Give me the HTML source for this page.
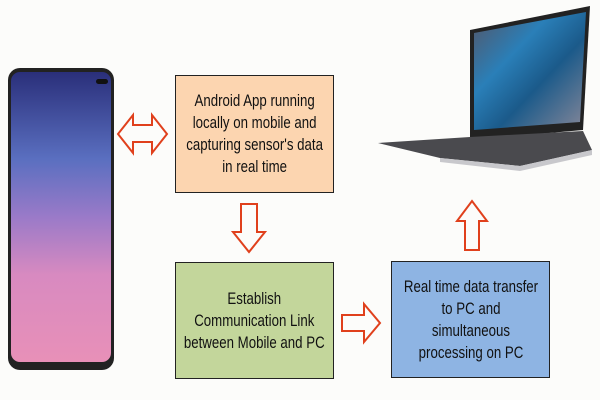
<!DOCTYPE html>
<html><head><meta charset="utf-8"><style>
html,body{margin:0;padding:0;}
body{width:600px;height:400px;background:#fcfcfa;position:relative;overflow:hidden;font-family:"Liberation Sans",sans-serif;}
.box{position:absolute;border:1.5px solid #222;box-sizing:border-box;display:flex;align-items:center;justify-content:center;text-align:center;font-size:17px;line-height:22px;color:#111;white-space:nowrap;}
.box span{display:inline-block;transform:scaleX(0.78);}
svg{position:absolute;left:0;top:0;}
</style></head><body>
<svg width="600" height="400">
<defs>
<linearGradient id="ph" x1="0" y1="0" x2="0" y2="1">
<stop offset="0" stop-color="#2a2f7a"/><stop offset="0.3" stop-color="#5a6fc0"/><stop offset="0.5" stop-color="#9a7ac8"/><stop offset="0.7" stop-color="#d88ac0"/><stop offset="1" stop-color="#e890b8"/>
</linearGradient>
<linearGradient id="sc" x1="0" y1="0" x2="1" y2="1">
<stop offset="0" stop-color="#556"/><stop offset="0.35" stop-color="#2a7fb8"/><stop offset="0.6" stop-color="#1b5a8a"/><stop offset="1" stop-color="#889"/>
</linearGradient>
</defs>
<rect x="8" y="68" width="106" height="302" rx="12" fill="#222"/>
<rect x="11" y="72" width="100" height="290" rx="9" fill="url(#ph)"/>
<rect x="96" y="79" width="12" height="5" rx="2.5" fill="#111"/>
<polygon points="470,30 590,6 583,130 470,140" fill="#222"/>
<polygon points="474,33 586,12 580,122 474,130" fill="url(#sc)"/>
<polygon points="378,143 470,137 583,131 592,150 520,166 440,158" fill="#4a4a4e"/>
<polygon points="440,158 520,166 592,150 592,155 520,171 440,162" fill="#c8c8cc"/>
<polygon points="118,134 133,115 133,125 152,125 152,115 167,134 152,153 152,142 133,142 133,153" fill="none" stroke="#e0401c" stroke-width="2"/>
<polygon points="241,204 257,204 257,232 265,232 249,252 233,232 241,232" fill="none" stroke="#e0401c" stroke-width="2"/>
<polygon points="342,315 364,315 364,304 380,323 364,342 364,331 342,331" fill="none" stroke="#e0401c" stroke-width="2"/>
<polygon points="465,250 479,250 479,221 487,221 472,201 457,221 465,221" fill="none" stroke="#e0401c" stroke-width="2"/>
</svg>
<div class="box" style="left:175px;top:75px;width:159px;height:118px;background:#fcd5b0;"><span>Android App running<br>locally on mobile and<br>capturing sensor's data<br>in real time</span></div>
<div class="box" style="left:175px;top:262px;width:159px;height:117px;background:#c3d69b;"><span>Establish<br>Communication Link<br>between Mobile and PC</span></div>
<div class="box" style="left:391px;top:261px;width:159px;height:117px;background:#8eb4e3;"><span>Real time data transfer<br>to PC and<br>simultaneous<br>processing on PC</span></div>
</body></html>
